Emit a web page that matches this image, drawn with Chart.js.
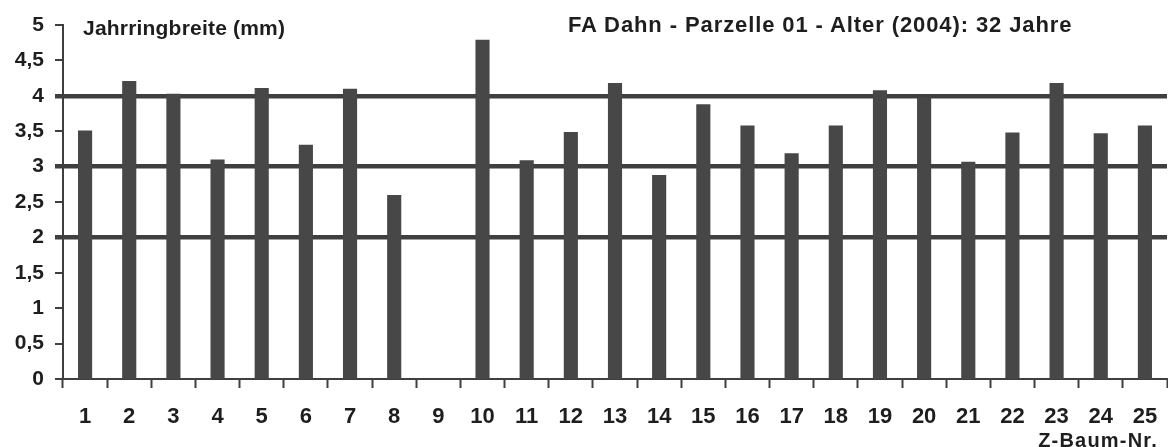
<!DOCTYPE html>
<html lang="de">
<head>
<meta charset="utf-8">
<title>FA Dahn - Parzelle 01</title>
<script src="https://cdn.jsdelivr.net/npm/chart.js@4.4.1/dist/chart.umd.min.js"></script>
<style>
  html, body { margin: 0; padding: 0; background: #fff; }
  #wrap { position: relative; width: 1168px; height: 447px; overflow: hidden; }
  #graf { display: block; }
  .txt { position: absolute; font-family: "Liberation Sans", Arial, sans-serif; font-weight: bold;
         color: #1e1e1e; line-height: 1; white-space: nowrap; }
  #titel   { left: 568px; top: 14px; font-size: 22px; letter-spacing: 0.9px; }
  #einheit { left: 83px;  top: 17px; font-size: 21px; letter-spacing: 0.2px; }
  #achse   { right: 10px; top: 430px; font-size: 20px; letter-spacing: 1.2px; }
</style>
</head>
<body>
<div id="wrap">
  <canvas id="graf" width="1168" height="447"></canvas>
  <div class="txt" id="titel">FA Dahn - Parzelle 01 - Alter (2004): 32 Jahre</div>
  <div class="txt" id="einheit">Jahrringbreite (mm)</div>
  <div class="txt" id="achse">Z-Baum-Nr.</div>
</div>
<script>
// Jahrringbreite je Z-Baum (Baum 9 ohne Wert)
const BAEUME = ['1', '2', '3', '4', '5', '6', '7', '8', '9', '10', '11', '12', '13',
                '14', '15', '16', '17', '18', '19', '20', '21', '22', '23', '24', '25'];
const BREITE = [3.51, 4.21, 4.03, 3.10, 4.11, 3.31, 4.10, 2.60, null, 4.79, 3.09, 3.49, 4.18,
                2.88, 3.88, 3.58, 3.19, 3.58, 4.08, 3.98, 3.07, 3.48, 4.18, 3.47, 3.58];
const Y_TICKS = [0, 0.5, 1, 1.5, 2, 2.5, 3, 3.5, 4, 4.5, 5];
const LINIEN = [2, 3, 4]; // durchgezogene Bezugslinien

const DUNKEL = '#3f3f3f', BALKEN = '#474747', SCHRIFT = '#1e1e1e';
const FONT = '"Liberation Sans", Arial, sans-serif';

function zahlDE(v) {
  return String(v).replace('.', ',');
}

new Chart(document.getElementById('graf'), {
  type: 'bar',
  data: {
    labels: BAEUME,
    datasets: [{ data: BREITE, backgroundColor: BALKEN, borderWidth: 0,
                 barPercentage: 0.32, categoryPercentage: 1 }],
  },
  options: {
    responsive: false, animation: false,
    layout: { padding: { top: 25, right: 1, left: 0, bottom: 0 } },
    plugins: { legend: { display: false }, tooltip: { enabled: false } },
    scales: {
      x: {
        // feste Höhe, und kein Extra-Rand für das letzte Label
        afterFit: (s) => { s.height = 68; s.paddingLeft = 0; s.paddingRight = 0; },
        border: { display: true, color: DUNKEL, width: 2 },
        grid: { drawOnChartArea: false, drawTicks: true, tickLength: 9,
                tickColor: DUNKEL, tickWidth: 2, offset: true },
        ticks: { color: SCHRIFT, padding: 16, maxRotation: 0, autoSkip: false,
                 font: { family: FONT, size: 22, weight: 'bold' } },
      },
      y: {
        min: 0, max: 5,
        afterFit: (s) => { s.width = 63; },
        afterBuildTicks: (s) => { s.ticks = Y_TICKS.map((v) => ({ value: v })); },
        border: { display: true, color: DUNKEL, width: 2 },
        grid: {
          drawTicks: true, tickLength: 8,
          color: DUNKEL,
          lineWidth: (ctx) => (ctx.tick && LINIEN.includes(ctx.tick.value) ? 4.5 : 0),
          tickColor: DUNKEL,
          tickWidth: (ctx) => (ctx.tick && LINIEN.includes(ctx.tick.value) ? 4.5 : 2),
        },
        ticks: { color: SCHRIFT, padding: 11,
                 font: { family: FONT, size: 21, weight: 'bold' },
                 callback: (v) => zahlDE(v) },
      },
    },
  },
});
</script>
</body>
</html>
